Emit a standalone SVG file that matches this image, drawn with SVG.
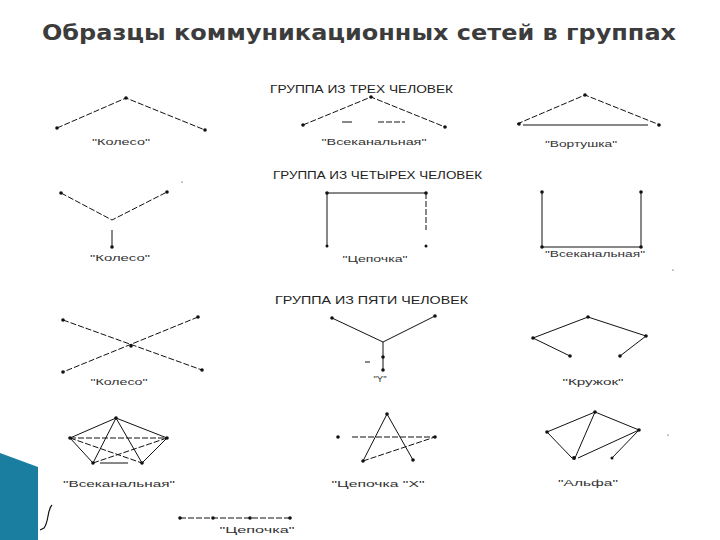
<svg xmlns="http://www.w3.org/2000/svg" width="720" height="540" viewBox="0 0 720 540">
<style>
.t{font-family:"DejaVu Sans","Liberation Sans",sans-serif;font-size:21px;font-weight:bold;fill:#3c3c3c}
.h{font-family:"Liberation Sans",Arial,sans-serif;font-size:10.5px;fill:#222}
.l{font-family:"Liberation Sans",Arial,sans-serif;font-size:9.5px;fill:#333;text-anchor:middle}
.e{stroke:#111;stroke-width:1;fill:none}
.d{stroke:#111;stroke-width:1;fill:none;stroke-dasharray:6 2}
.n{fill:#111}
</style>
<rect width="720" height="540" fill="#fff"/>
<g id="decor">
<polygon points="0,453 38,467 38,540 0,540" fill="#1a7ea0"/>
<path d="M52,505 C47,510 49,522 44,528 L40,530" stroke="#111" stroke-width="1.2" fill="none"/>
</g>
<text class="t" x="42" y="40" textLength="634" lengthAdjust="spacingAndGlyphs">Образцы коммуникационных сетей в группах</text>
<text class="h" x="270" y="93" textLength="183" lengthAdjust="spacingAndGlyphs">ГРУППА ИЗ ТРЕХ ЧЕЛОВЕК</text>
<text class="h" x="273" y="179" textLength="209" lengthAdjust="spacingAndGlyphs">ГРУППА ИЗ ЧЕТЫРЕХ ЧЕЛОВЕК</text>
<text class="h" x="275" y="304" textLength="193" lengthAdjust="spacingAndGlyphs">ГРУППА ИЗ ПЯТИ ЧЕЛОВЕК</text>
<g id="connectors">
<path class="d" d="M57,128 L126,98 L205,130"/>
<path class="d" d="M303,125 L371,97 L445,127"/>
<path class="e" d="M342,122 L352,122"/>
<path class="d" d="M378,122 L405,122" stroke-dasharray="2 3"/>
<path class="d" d="M517,124 L585,95 L660,125"/>
<path class="e" d="M523,125 L648,125"/>
<path class="d" d="M61,193 L112,220 L167,192"/>
<path class="e" d="M112,230 L112,247"/>
<path class="e" d="M327,246 L327,193 L426,193"/>
<path class="d" d="M426,193 L426,230" stroke-dasharray="3 2"/>
<path class="e" d="M542,192 L542,247 L641,247 L641,192"/>
<path class="d" d="M63,320 L202,370"/>
<path class="d" d="M198,317 L63,372"/>
<path class="e" d="M332,318 L383,342 L435,316"/>
<path class="e" d="M383,342 L383,370" stroke-width="1.5"/>
<path class="e" d="M365,362 L370,362"/>
<path class="e" d="M570,356 L533,338 L588,317 L646,336 L620,356"/>
<path class="e" d="M116,418 L70,438 L93,463 M142,463 L167,438 L116,418"/>
<path class="e" d="M100,463 L128,463"/>
<path class="e" d="M116,418 L93,463 M116,418 L142,463"/>
<path class="d" d="M70,438 L167,438 M70,438 L142,463 M167,438 L93,463"/>
<path class="e" d="M363,461 L387,414 L413,460"/>
<path class="d" d="M363,461 L435,437"/>
<path class="d" d="M352,437 L435,437"/>
<path class="e" d="M547,432 L595,412 L639,430 M547,432 L572,458 M595,412 L575,458 M639,430 L578,458 M639,430 L612,458"/>
<path class="d" d="M180,518 L290,518" stroke-dasharray="10 3"/>
</g>
<g id="n3-koleso" class="n">
<circle cx="57" cy="128" r="1.8"/><circle cx="126" cy="98" r="1.8"/><circle cx="205" cy="130" r="1.8"/>
<text class="l" x="121" y="145" textLength="58" lengthAdjust="spacingAndGlyphs">"Колесо"</text>
</g>
<g id="n3-vsekanal" class="n">
<circle cx="303" cy="125" r="1.8"/><circle cx="371" cy="97" r="1.8"/><circle cx="445" cy="127" r="1.8"/>
<text class="l" x="374" y="145" textLength="105" lengthAdjust="spacingAndGlyphs">"Всеканальная"</text>
</g>
<g id="n3-vortushka" class="n">
<circle cx="519" cy="124" r="1.8"/><circle cx="585" cy="95" r="1.8"/><circle cx="659" cy="125" r="1.8"/>
<text class="l" x="581" y="147" textLength="72" lengthAdjust="spacingAndGlyphs">"Вортушка"</text>
</g>
<g id="n4-koleso" class="n">
<circle cx="61" cy="193" r="1.8"/><circle cx="167" cy="192" r="1.8"/><circle cx="112" cy="247" r="1.8"/>
<circle cx="182" cy="182" r="0.6"/>
<text class="l" x="120" y="261" textLength="60" lengthAdjust="spacingAndGlyphs">"Колесо"</text>
</g>
<g id="n4-cepochka" class="n">
<circle cx="327" cy="193" r="1.8"/><circle cx="426" cy="193" r="1.8"/><circle cx="327" cy="246" r="1.5"/><circle cx="426" cy="246" r="1.5"/>
<text class="l" x="375" y="262" textLength="65" lengthAdjust="spacingAndGlyphs">"Цепочка"</text>
</g>
<g id="n4-vsekanal" class="n">
<circle cx="542" cy="192" r="1.8"/><circle cx="641" cy="192" r="1.8"/><circle cx="542" cy="247" r="1.8"/><circle cx="641" cy="247" r="1.8"/>
<circle cx="673" cy="270" r="0.6"/>
<text class="l" x="595" y="257" textLength="100" lengthAdjust="spacingAndGlyphs">"Всеканальная"</text>
</g>
<g id="n5-koleso" class="n">
<circle cx="63" cy="320" r="1.8"/><circle cx="198" cy="317" r="1.8"/><circle cx="131" cy="346" r="1.8"/><circle cx="63" cy="372" r="1.8"/><circle cx="202" cy="370" r="1.8"/>
<text class="l" x="119" y="385" textLength="57" lengthAdjust="spacingAndGlyphs">"Колесо"</text>
</g>
<g id="n5-y" class="n">
<circle cx="332" cy="318" r="1.8"/><circle cx="435" cy="316" r="1.8"/><circle cx="383" cy="357" r="1.8"/><circle cx="383" cy="370" r="1.8"/>
<text class="l" x="380" y="382">"Y"</text>
</g>
<g id="n5-kruzhok" class="n">
<circle cx="588" cy="317" r="1.8"/><circle cx="533" cy="338" r="1.8"/><circle cx="646" cy="336" r="1.8"/><circle cx="570" cy="356" r="1.8"/><circle cx="620" cy="356" r="1.8"/>
<text class="l" x="593" y="385" textLength="61" lengthAdjust="spacingAndGlyphs">"Кружок"</text>
</g>
<g id="n5-vsekanal" class="n">
<circle cx="116" cy="418" r="1.8"/><circle cx="70" cy="438" r="1.8"/><circle cx="167" cy="438" r="1.8"/><circle cx="93" cy="463" r="1.8"/><circle cx="142" cy="463" r="1.8"/>
<text class="l" x="119" y="487" textLength="112" lengthAdjust="spacingAndGlyphs">"Всеканальная"</text>
</g>
<g id="n5-cepx" class="n">
<circle cx="338" cy="437" r="1.8"/><circle cx="387" cy="414" r="1.8"/><circle cx="435" cy="437" r="1.8"/><circle cx="363" cy="461" r="1.8"/><circle cx="413" cy="460" r="1.8"/>
<text class="l" x="378" y="487" textLength="93" lengthAdjust="spacingAndGlyphs">"Цепочка "Х"</text>
</g>
<g id="n5-alfa" class="n">
<circle cx="547" cy="432" r="1.8"/><circle cx="595" cy="412" r="1.8"/><circle cx="639" cy="430" r="1.8"/><circle cx="574" cy="458" r="2"/><circle cx="612" cy="458" r="1.5"/>
<circle cx="668" cy="435" r="0.6"/>
<text class="l" x="588" y="486" textLength="60" lengthAdjust="spacingAndGlyphs">"Альфа"</text>
</g>
<g id="n5-cepochka" class="n">
<circle cx="180" cy="518" r="1.8"/><circle cx="213" cy="518" r="1.8"/><circle cx="250" cy="518" r="1.8"/><circle cx="290" cy="518" r="1.8"/>
<text class="l" x="257" y="533" textLength="75" lengthAdjust="spacingAndGlyphs">"Цепочка"</text>
</g>
</svg>
